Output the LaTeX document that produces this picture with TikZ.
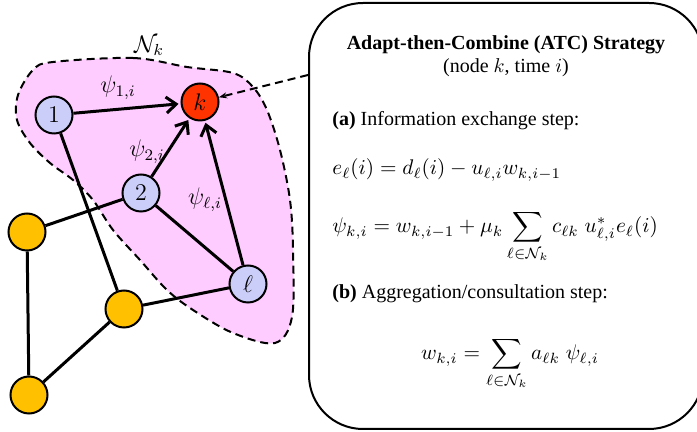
\documentclass[tikz,border=0pt]{standalone}
\usepackage{amsmath}
\usepackage{amsfonts, amssymb}
\usepackage{graphicx}
\usepackage[no-math]{fontspec}
\setmainfont{Liberation Serif}
\usetikzlibrary{arrows.meta}

\definecolor{hoodpink}{RGB}{255,204,255}
\definecolor{nbrblue}{RGB}{204,206,250}
\definecolor{selfred}{RGB}{255,51,0}
\definecolor{farorange}{RGB}{255,192,0}

\newcommand{\eqsize}[1]{\scalebox{1.06}{#1}}

\begin{document}
\begin{tikzpicture}[x=0.5pt, y=-0.5pt, >={Straight Barb[length=5pt, width=8pt]},
    agent/.style={circle, draw, line width=1pt, minimum size=18.5pt, inner sep=0pt, font=\large},
    link/.style={line width=1.5pt},
    eqtext/.style={anchor=base west, inner sep=0pt}]

    \useasboundingbox (0,0) rectangle (697,432);

    % Neighbourhood of node k
    \draw[dashed, dash pattern=on 4pt off 2.5pt, line width=1pt, fill=hoodpink]
      plot[smooth cycle, tension=0.55] coordinates {
        (53,62) (133,58) (187,67) (233,73) (253,87) (267,110) (280,150)
        (290,200) (293,250) (292,317) (275,343) (233,333) (193,310)
        (167,290) (140,260) (113,230) (93,200) (73,180) (50,163)
        (30,143) (17,120) (18,95) (33,70)};
    \node[font=\large] (hood) at (149,46) {$\mathcal{N}_k$};

    % Agents
    \node[agent, fill=nbrblue] (n1) at (54,115) {$1$};
    \node[agent, fill=selfred] (k) at (200,102) {$k$};
    \node[agent, fill=nbrblue] (n2) at (141,193) {$2$};
    \node[agent, fill=nbrblue] (nl) at (248,284) {$\ell$};
    \node[agent, fill=farorange] (y1) at (27,232) {};
    \node[agent, fill=farorange] (y2) at (124,309) {};
    \node[agent, fill=farorange] (y3) at (29,395) {};

    % Links
    \draw[link] (n1) -- (y2);
    \draw[link] (n2) -- (y1);
    \draw[link] (n2) -- (nl);
    \draw[link] (nl) -- (y2);
    \draw[link] (y1) -- (y3);
    \draw[link] (y3) -- (y2);

    % Estimates sent to k
    \draw[link, ->, shorten >=1pt] (n1) -- (k);
    \draw[link, ->, shorten >=1pt] (n2) -- (k);
    \draw[link, ->, shorten >=1pt] (nl) -- (k);
    \node[font=\large] (psi1) at (118,88) {$\psi_{1,i}$};
    \node[font=\large] (psi2) at (147,152) {$\psi_{2,i}$};
    \node[font=\large] (psil) at (205,200) {$\psi_{\ell,i}$};

    % ATC box
    \node[draw, line width=1pt, rounded corners=27pt, minimum width=197pt,
      minimum height=213pt] (atc) at (506,216) {};
    \coordinate (hint) at (atc.west |- {0,75});
    \draw[dashed, dash pattern=on 4pt off 2.5pt, line width=1pt, -{Stealth[length=4pt]}] (hint) -- (k);

    \node[font=\bfseries] (title) at (506,45) {Adapt-then-Combine (ATC) Strategy};
    \node (sub) at (506,68) {(node $k$, time $i$)};
    \node[eqtext] (stepa) at (332,126) {\textbf{(a)} Information exchange step:};
    \node[eqtext] (erreq) at (332,175) {\eqsize{$e_\ell(i) = d_\ell(i) - u_{\ell,i}w_{k,i-1}$}};
    \node[eqtext] (adapt) at (332,233) {\eqsize{$\psi_{k,i} = w_{k,i-1} + \mu_k \displaystyle\sum_{\ell\in\mathcal{N}_k} c_{\ell k}\; u^*_{\ell,i}e_\ell(i)$}};
    \node[eqtext] (stepb) at (332,299) {\textbf{(b)} Aggregation/consultation step:};
    \node[anchor=base, inner sep=0pt] (combine) at (510,360) {\eqsize{$w_{k,i} = \displaystyle\sum_{\ell\in\mathcal{N}_k} a_{\ell k}\; \psi_{\ell,i}$}};

\end{tikzpicture}
\end{document}
